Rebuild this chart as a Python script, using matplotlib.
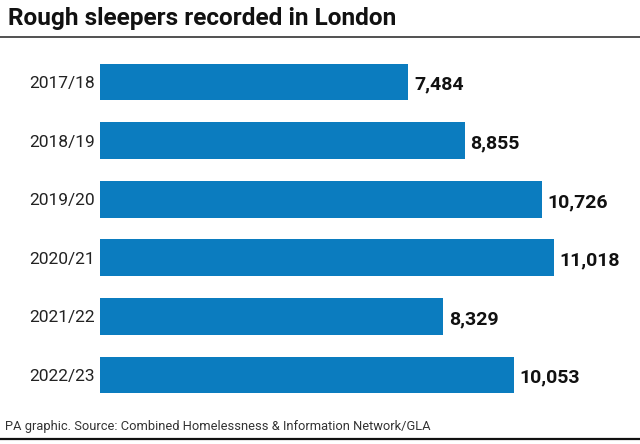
import matplotlib.pyplot as plt
from matplotlib.lines import Line2D

# data
years = ["2017/18", "2018/19", "2019/20", "2020/21", "2021/22", "2022/23"]
sleepers = [7484, 8855, 10726, 11018, 8329, 10053]

bar_color = "#0b7cbf"
W, H = 640, 444

plt.rcParams["font.family"] = ["Roboto", "DejaVu Sans"]

fig = plt.figure(figsize=(W / 100, H / 100), dpi=100)

# axes placed in pixel terms: bars start at x=100, rows centred 82..375 px
ax = fig.add_axes([100 / W, (H - 404.3) / H, 540 / W, 351.6 / H])
ax.barh(range(len(years)), sleepers, height=0.63, color=bar_color)
ax.set_ylim(len(years) - 0.5, -0.5)
ax.set_xlim(0, 13105)

ax.set_yticks(range(len(years)))
ax.set_yticklabels(years, fontsize=12.5, color="#222222")
ax.tick_params(axis="y", length=0, pad=3.5)
ax.set_xticks([])
for s in ax.spines.values():
    s.set_visible(False)

# value labels at bar ends
for i, v in enumerate(sleepers):
    ax.annotate(f"{v:,}", (v, i), xytext=(4, -2), textcoords="offset points",
                va="center", ha="left", fontsize=14, fontweight="bold",
                color="#111111")

# title and rules
fig.text(8 / W, 1 - 19 / H, "Rough sleepers recorded in London",
         fontsize=17.6, fontweight="bold", va="center", ha="left", color="#111111")
fig.add_artist(Line2D([0, 1], [1 - 37 / H, 1 - 37 / H], color="#333333", lw=1.2))

fig.text(5 / W, 1 - 426 / H,
         "PA graphic. Source: Combined Homelessness & Information Network/GLA",
         fontsize=9.3, va="center", ha="left", color="#333333")
fig.add_artist(Line2D([0, 1], [1 - 439 / H, 1 - 439 / H], color="#111111", lw=1.6))

plt.savefig("out.png", dpi=100)
